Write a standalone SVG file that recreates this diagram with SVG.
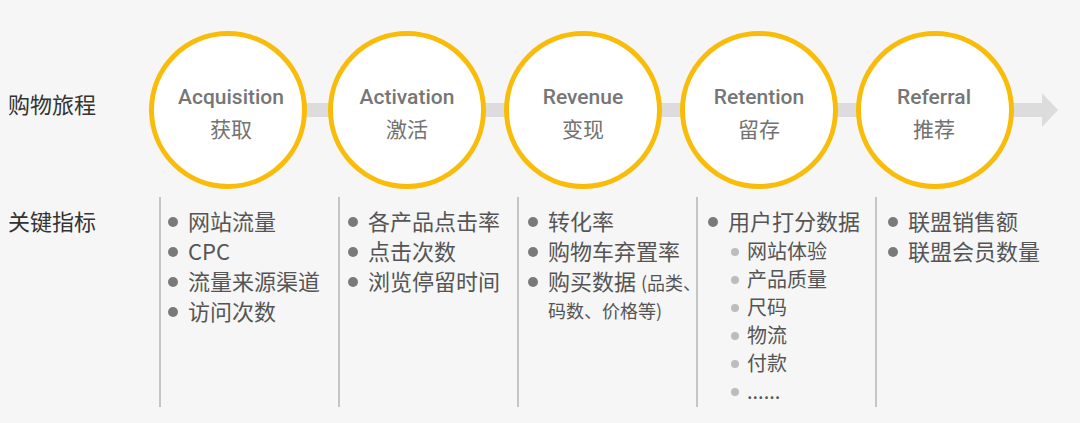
<svg xmlns="http://www.w3.org/2000/svg" width="1080" height="423" viewBox="0 0 1080 423">
<style>
.bg{fill:#f6f6f6}
.stage{fill:#ffffff;stroke:#f9bc0a;stroke-width:5}
.en{font-family:Roboto,"Open Sans","Noto Sans CJK SC",sans-serif;font-size:21px;font-weight:500;fill:#767676;text-anchor:middle}
.zh{font-family:"Noto Sans CJK SC",sans-serif;font-size:21px;fill:#727272;text-anchor:middle}
.lbl{font-family:"Noto Sans CJK SC",sans-serif;font-size:22px;fill:#333333}
.item{font-family:"Noto Sans CJK SC",Roboto,sans-serif;font-size:22px;fill:#555555}
.sub{font-size:20px}
.small{font-size:18px}
.dot{fill:#7a7a7a}
.sdot{fill:#bdbdbd}
.sep{stroke:#b4b4b4;stroke-width:1.5}
</style>
<rect class="bg" x="0" y="0" width="1080" height="423"/>
<g id="connectors">
<rect x="228" y="103" width="815" height="14" fill="#dcdcdc"/>
<polygon points="1042,93 1058,110 1042,127" fill="#dcdcdc"/>
</g>
<g id="label-journey"><text class="lbl" x="8" y="113">购物旅程</text></g>
<g id="label-metrics"><text class="lbl" x="8" y="230">关键指标</text></g>
<g id="acquisition">
<circle class="stage" cx="228" cy="110" r="76.5"/>
<text class="en" x="231" y="104">Acquisition</text>
<text class="zh" x="231" y="137">获取</text>
</g>
<g id="activation">
<circle class="stage" cx="407" cy="110" r="76.5"/>
<text class="en" x="407" y="104">Activation</text>
<text class="zh" x="407" y="137">激活</text>
</g>
<g id="revenue">
<circle class="stage" cx="583" cy="110" r="76.5"/>
<text class="en" x="583" y="104">Revenue</text>
<text class="zh" x="583" y="137">变现</text>
</g>
<g id="retention">
<circle class="stage" cx="759" cy="110" r="76.5"/>
<text class="en" x="759" y="104">Retention</text>
<text class="zh" x="759" y="137">留存</text>
</g>
<g id="referral">
<circle class="stage" cx="935" cy="110" r="76.5"/>
<text class="en" x="934" y="104">Referral</text>
<text class="zh" x="934" y="137">推荐</text>
</g>
<g id="separators">
<line class="sep" x1="160" y1="197" x2="160" y2="407"/>
<line class="sep" x1="339" y1="197" x2="339" y2="407"/>
<line class="sep" x1="518" y1="197" x2="518" y2="407"/>
<line class="sep" x1="697" y1="197" x2="697" y2="407"/>
<line class="sep" x1="876" y1="197" x2="876" y2="407"/>
</g>
<g id="metrics-acquisition">
<circle class="dot" cx="173" cy="222" r="5"/><text class="item" x="188" y="229.5">网站流量</text>
<circle class="dot" cx="173" cy="252" r="5"/><text class="item" x="188" y="259.5">CPC</text>
<circle class="dot" cx="173" cy="282" r="5"/><text class="item" x="188" y="289.5">流量来源渠道</text>
<circle class="dot" cx="173" cy="312" r="5"/><text class="item" x="188" y="319.5">访问次数</text>
</g>
<g id="metrics-activation">
<circle class="dot" cx="353" cy="222" r="5"/><text class="item" x="368" y="229.5">各产品点击率</text>
<circle class="dot" cx="353" cy="252" r="5"/><text class="item" x="368" y="259.5">点击次数</text>
<circle class="dot" cx="353" cy="282" r="5"/><text class="item" x="368" y="289.5">浏览停留时间</text>
</g>
<g id="metrics-revenue">
<circle class="dot" cx="533" cy="222" r="5"/><text class="item" x="548" y="229.5">转化率</text>
<circle class="dot" cx="533" cy="252" r="5"/><text class="item" x="548" y="259.5">购物车弃置率</text>
<circle class="dot" cx="533" cy="282" r="5"/><text class="item" x="548" y="289.5">购买数据 <tspan class="small">(品类、</tspan></text>
<text class="item small" x="548" y="318">码数、价格等)</text>
</g>
<g id="metrics-retention">
<circle class="dot" cx="713" cy="222" r="5"/><text class="item" x="728" y="229.5">用户打分数据</text>
<circle class="sdot" cx="735" cy="252" r="4"/><text class="item sub" x="747" y="259">网站体验</text>
<circle class="sdot" cx="735" cy="280" r="4"/><text class="item sub" x="747" y="287">产品质量</text>
<circle class="sdot" cx="735" cy="308" r="4"/><text class="item sub" x="747" y="315">尺码</text>
<circle class="sdot" cx="735" cy="336" r="4"/><text class="item sub" x="747" y="343">物流</text>
<circle class="sdot" cx="735" cy="364" r="4"/><text class="item sub" x="747" y="371">付款</text>
<circle class="sdot" cx="735" cy="392" r="4"/><text class="item sub" x="747" y="399">......</text>
</g>
<g id="metrics-referral">
<circle class="dot" cx="893" cy="222" r="5"/><text class="item" x="908" y="229.5">联盟销售额</text>
<circle class="dot" cx="893" cy="252" r="5"/><text class="item" x="908" y="259.5">联盟会员数量</text>
</g>
</svg>
